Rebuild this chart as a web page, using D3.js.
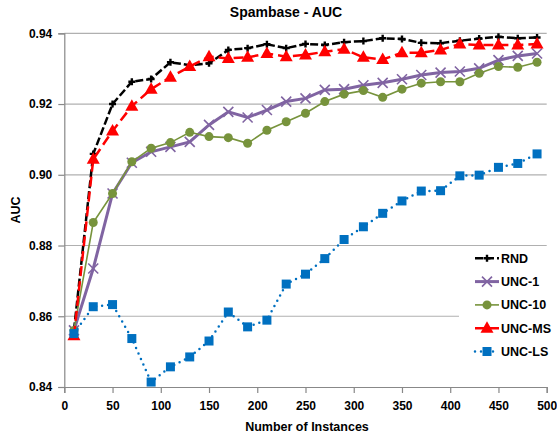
<!DOCTYPE html>
<html>
<head>
<meta charset="utf-8">
<script src="https://cdn.jsdelivr.net/npm/d3@7"></script>
<style>
  body { margin: 0; background: #fff; }
  text { font-family: "Liberation Sans", Arial, sans-serif; font-weight: bold; fill: #000; }
</style>
</head>
<body>
<div id="chart"></div>
<script>
var instances = [10, 30, 50, 70, 90, 110, 130, 150, 170, 190, 210, 230, 250,
                 270, 290, 310, 330, 350, 370, 390, 410, 430, 450, 470, 490];

var rnd = [0.856, 0.9059, 0.920, 0.9263, 0.9271, 0.9318, 0.9310, 0.9315, 0.9353, 0.9358, 0.9369, 0.9358, 0.9370,
           0.9367, 0.9375, 0.9378, 0.9386, 0.9384, 0.9373, 0.9372, 0.9379, 0.9385, 0.9390, 0.9386, 0.9388];
var unc1 = [0.856, 0.8735, 0.8947, 0.9034, 0.9065, 0.9079, 0.9093, 0.9141, 0.9178, 0.9162, 0.9183, 0.9207, 0.9216,
            0.9240, 0.9242, 0.9253, 0.9260, 0.9270, 0.9282, 0.9289, 0.9292, 0.9301, 0.9324, 0.9336, 0.9343];
var unc10 = [0.856, 0.8865, 0.8947, 0.9037, 0.9075, 0.9091, 0.9120, 0.9108, 0.9105, 0.9089, 0.9126, 0.9150, 0.9174,
             0.9207, 0.9228, 0.9238, 0.9219, 0.9242, 0.9259, 0.9263, 0.9263, 0.9287, 0.9306, 0.9304, 0.9318];
var uncMS = [0.8545, 0.9044, 0.9124, 0.9194, 0.9242, 0.9276, 0.9306, 0.9334, 0.9329, 0.9332, 0.9343, 0.9334, 0.9339,
             0.9348, 0.9355, 0.9332, 0.9326, 0.9345, 0.9345, 0.9353, 0.9370, 0.9367, 0.9367, 0.9367, 0.9370];
var uncLS = [0.8551, 0.8627, 0.8633, 0.8537, 0.8414, 0.8457, 0.8485, 0.8530, 0.8612, 0.8570, 0.8589, 0.8691, 0.8719,
             0.8763, 0.8817, 0.8853, 0.8891, 0.8926, 0.8954, 0.8955, 0.8997, 0.8999, 0.9021, 0.9032, 0.9059];

var xTicks = [0, 50, 100, 150, 200, 250, 300, 350, 400, 450, 500];
var yTicks = [0.84, 0.86, 0.88, 0.90, 0.92, 0.94];

var series = [
  { name: 'RND',    values: rnd,   color: '#000000', width: 2.5, dash: '8,3',  cap: 'butt',  marker: 'plus' },
  { name: 'UNC-1',  values: unc1,  color: '#8064A2', width: 3,   dash: null,   cap: 'butt',  marker: 'x' },
  { name: 'UNC-10', values: unc10, color: '#77933C', width: 1.6, dash: null,   cap: 'butt',  marker: 'circle' },
  { name: 'UNC-MS', values: uncMS, color: '#FF0000', width: 2.5, dash: '10,5', cap: 'butt',  marker: 'triangle' },
  { name: 'UNC-LS', values: uncLS, color: '#0070C0', width: 2.5, dash: '0,6',  cap: 'round', marker: 'square' }
];

var W = 557, H = 438;
var m = { left: 64.3, right: 10.3, top: 33.3, bottom: 51 };

var svg = d3.select('#chart').append('svg').attr('width', W).attr('height', H);

var x = d3.scaleLinear().domain([0, 500]).range([m.left, W - m.right]);
var y = d3.scaleLinear().domain([0.84, 0.94]).range([H - m.bottom, m.top]);

// gridlines
svg.append('g').selectAll('line')
    .data(yTicks.slice(1))
    .enter().append('line')
    .attr('x1', x(0)).attr('x2', x(500))
    .attr('y1', function(d) { return y(d); })
    .attr('y2', function(d) { return y(d); })
    .style('stroke', '#b0b0b0').style('stroke-width', 1.2);

// axes
var xAxis = svg.append('g')
    .attr('transform', 'translate(0,' + y(0.84) + ')')
    .call(d3.axisBottom(x).tickValues(xTicks).tickSize(6).tickPadding(8));
var yAxis = svg.append('g')
    .attr('transform', 'translate(' + x(0) + ',0)')
    .call(d3.axisLeft(y).tickValues(yTicks).tickFormat(d3.format('.2f')).tickSize(6).tickPadding(6));

[xAxis, yAxis].forEach(function(a) {
  a.select('.domain').style('stroke', '#888').style('stroke-width', 1.2);
  a.selectAll('.tick line').style('stroke', '#888').style('stroke-width', 1.2);
  a.selectAll('.tick text').style('font-size', '12px')
      .style('font-family', '"Liberation Sans", Arial, sans-serif').style('font-weight', 'bold');
});

var line = d3.line()
    .x(function(d, i) { return x(instances[i]); })
    .y(function(d) { return y(d); });

function drawMarker(sel, type, color) {
  if (type === 'plus') {
    sel.append('path').attr('d', 'M-3.5,0H3.5M0,-3.5V3.5')
        .style('stroke', color).style('stroke-width', 2.4).style('fill', 'none');
  } else if (type === 'x') {
    sel.append('path').attr('d', 'M-5,-5L5,5M-5,5L5,-5')
        .style('stroke', color).style('stroke-width', 1.6).style('fill', 'none');
  } else if (type === 'circle') {
    sel.append('circle').attr('r', 4.5).style('fill', color);
  } else if (type === 'triangle') {
    sel.append('path').attr('d', 'M0,-7L6.5,4.5L-6.5,4.5Z').style('fill', color);
  } else if (type === 'square') {
    sel.append('rect').attr('x', -4.5).attr('y', -4.5).attr('width', 9).attr('height', 9)
        .style('fill', color);
  }
}

series.forEach(function(s) {
  var g = svg.append('g');
  g.append('path')
      .datum(s.values)
      .attr('d', line)
      .style('fill', 'none')
      .style('stroke', s.color)
      .style('stroke-width', s.width)
      .style('stroke-linecap', s.cap)
      .style('stroke-dasharray', s.dash);
  g.selectAll('g.pt')
      .data(s.values)
      .enter().append('g')
      .attr('class', 'pt')
      .attr('transform', function(d, i) { return 'translate(' + x(instances[i]) + ',' + y(d) + ')'; })
      .each(function() { drawMarker(d3.select(this), s.marker, s.color); });
});

// legend
var lg = svg.append('g').attr('transform', 'translate(459,246)');
lg.append('rect').attr('width', 96).attr('height', 118).style('fill', '#fff');
series.forEach(function(s, i) {
  var row = lg.append('g').attr('transform', 'translate(16,' + (12.3 + i * 23.3) + ')');
  row.append('line').attr('x1', 0).attr('x2', 24)
      .style('stroke', s.color).style('stroke-width', s.width)
      .style('stroke-linecap', s.cap).style('stroke-dasharray', s.dash);
  var mk = row.append('g').attr('transform', 'translate(12,0)');
  drawMarker(mk, s.marker, s.color);
  row.append('text').attr('x', 26).attr('y', 4.5).style('font-size', '12.5px').text(s.name);
});

// titles
svg.append('text').attr('x', 286).attr('y', 17).attr('text-anchor', 'middle')
    .style('font-size', '14px').text('Spambase - AUC');
svg.append('text').attr('x', 307).attr('y', 431).attr('text-anchor', 'middle')
    .style('font-size', '12.5px').text('Number of Instances');
svg.append('text').attr('transform', 'translate(20,210) rotate(-90)').attr('text-anchor', 'middle')
    .style('font-size', '12.5px').text('AUC');
</script>
</body>
</html>
